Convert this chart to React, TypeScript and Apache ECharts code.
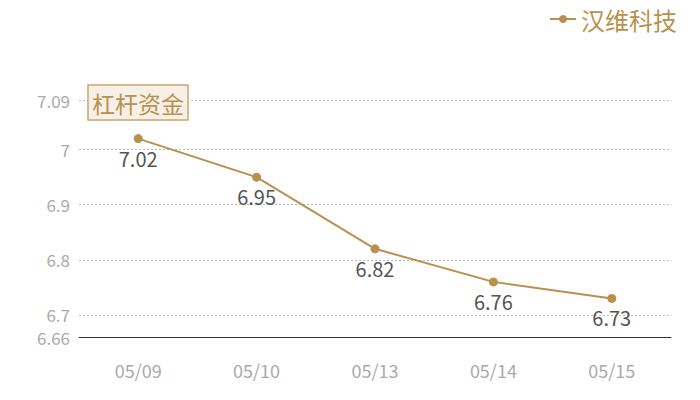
import React, { useRef, useEffect } from 'react';
import * as echarts from 'echarts';

const categories = ['05/09', '05/10', '05/13', '05/14', '05/15'];
const values = [7.02, 6.95, 6.82, 6.76, 6.73];
const seriesName = '汉维科技';
const boxTitle = '杠杆资金';
const yMin = 6.66;
const yMax = 7.09;

const GOLD = '#b8914f';
const FONT = '"Noto Sans CJK SC", "Noto Sans", sans-serif';

const App: React.FC = () => {
  const chartRef = useRef<HTMLDivElement>(null);

  useEffect(() => {
    if (!chartRef.current) return;
    document.body.style.margin = '0';
    const chart = echarts.init(chartRef.current, undefined, { renderer: 'svg' });

    chart.setOption({
      animation: false,
      textStyle: { fontFamily: FONT },
      title: {
        text: boxTitle,
        left: 88,
        top: 85,
        padding: [2, 4, 2, 4],
        backgroundColor: '#f6f0e8',
        borderColor: '#c9a66b',
        borderWidth: 1.5,
        textStyle: { color: GOLD, fontSize: 23, lineHeight: 31, fontWeight: 'normal', fontFamily: FONT },
      },
      legend: {
        right: 18,
        top: 2,
        itemWidth: 26,
        itemHeight: 10,
        itemGap: 6,
        textStyle: { color: GOLD, fontSize: 24, fontFamily: FONT },
        data: [seriesName],
      },
      grid: { left: 79, right: 29, top: 100, bottom: 63 },
      xAxis: {
        type: 'category',
        data: categories,
        axisLine: { lineStyle: { color: '#333', width: 1 } },
        axisTick: { show: false },
        axisLabel: { color: '#aaa', fontSize: 18, margin: 24, fontFamily: FONT },
      },
      yAxis: {
        type: 'value',
        min: yMin,
        max: yMax,
        splitNumber: 5,
        axisLine: { show: false },
        axisTick: { show: false },
        axisLabel: { color: '#aaa', fontSize: 17, lineHeight: 17, margin: 9, fontFamily: FONT },
        splitLine: { lineStyle: { color: '#bbb', type: [2, 2], width: 1 } },
      },
      series: [
        {
          name: seriesName,
          type: 'line',
          data: values,
          symbol: 'circle',
          symbolSize: 9,
          itemStyle: { color: GOLD },
          lineStyle: { color: GOLD, width: 2 },
          label: {
            show: true,
            position: 'bottom',
            distance: 5,
            color: '#555',
            fontSize: 20,
            fontFamily: FONT,
          },
        },
      ],
    });

    return () => chart.dispose();
  }, []);

  return <div ref={chartRef} style={{ width: 700, height: 400 }} />;
};

export default App;
